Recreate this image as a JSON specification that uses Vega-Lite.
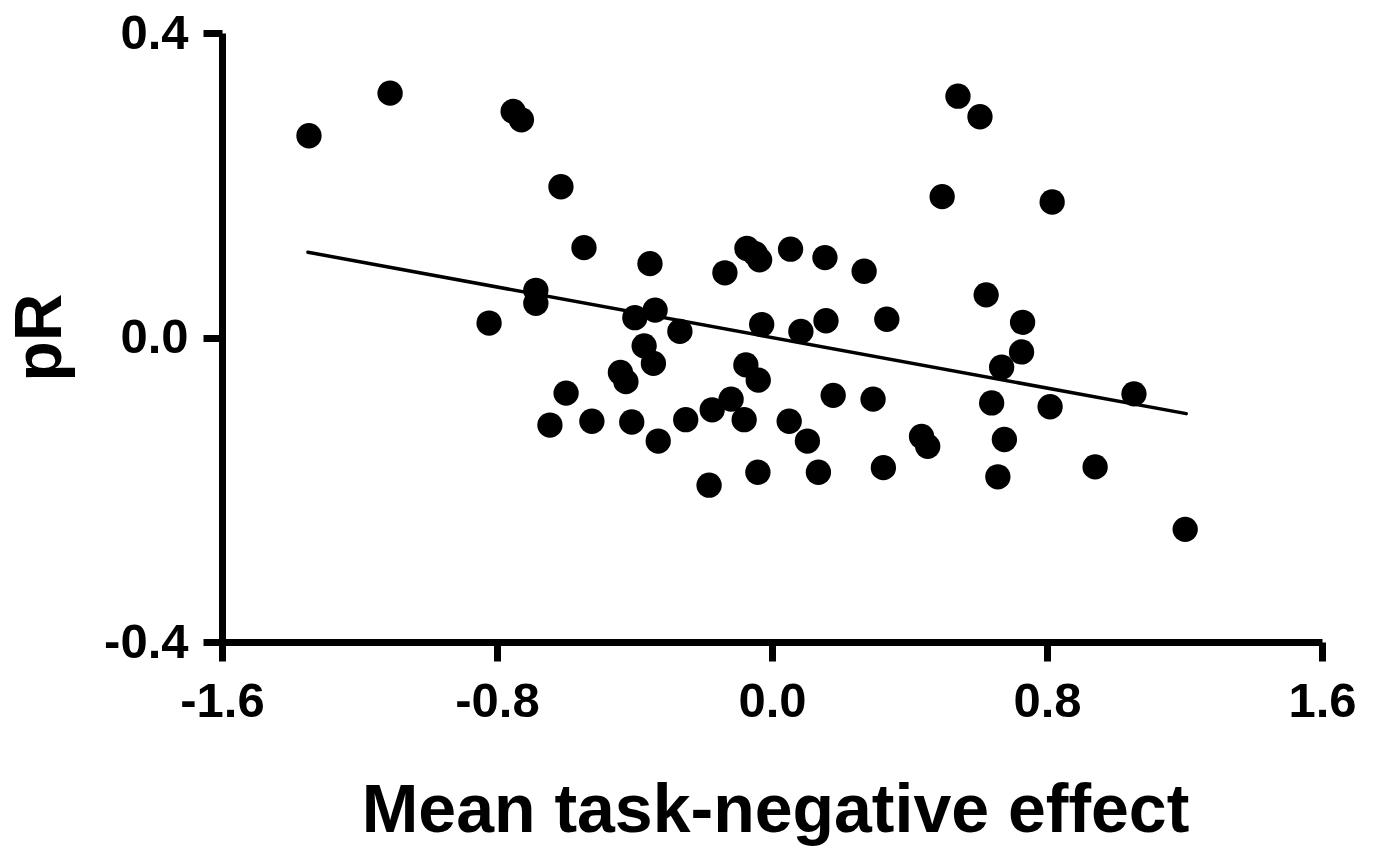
{
  "$schema": "https://vega.github.io/schema/vega-lite/v6.json",
  "width": 1100,
  "height": 609,
  "autosize": {"type": "none"},
  "padding": {"left": 222, "top": 33, "right": 53, "bottom": 206},
  "background": "white",
  "config": {
    "view": {"stroke": null},
    "font": "Liberation Sans",
    "axis": {
      "grid": false,
      "domainColor": "black",
      "domainWidth": 7,
      "tickColor": "black",
      "tickWidth": 7,
      "tickSize": 19,
      "labelFont": "Liberation Sans",
      "labelFontWeight": "bold",
      "labelFontSize": 49,
      "labelColor": "black",
      "labelFlush": false,
      "labelOverlap": false,
      "labelBound": false,
      "titleFont": "Liberation Sans",
      "titleFontWeight": "bold",
      "titleColor": "black"
    }
  },
  "datasets": {
    "pts": [
      {"x": -1.347, "y": 0.265},
      {"x": -1.111, "y": 0.321},
      {"x": -0.753, "y": 0.297},
      {"x": -0.729, "y": 0.286},
      {"x": -0.614, "y": 0.198},
      {"x": -0.547, "y": 0.118},
      {"x": -0.687, "y": 0.062},
      {"x": -0.687, "y": 0.045},
      {"x": -0.823, "y": 0.019},
      {"x": -0.355, "y": 0.097},
      {"x": -0.399, "y": 0.026},
      {"x": -0.340, "y": 0.036},
      {"x": -0.268, "y": 0.008},
      {"x": -0.372, "y": -0.011},
      {"x": -0.441, "y": -0.046},
      {"x": -0.425, "y": -0.058},
      {"x": -0.345, "y": -0.034},
      {"x": -0.599, "y": -0.073},
      {"x": -0.646, "y": -0.115},
      {"x": -0.524, "y": -0.110},
      {"x": -0.408, "y": -0.111},
      {"x": -0.331, "y": -0.136},
      {"x": -0.251, "y": -0.108},
      {"x": -0.183, "y": -0.194},
      {"x": -0.174, "y": -0.095},
      {"x": -0.119, "y": -0.081},
      {"x": -0.137, "y": 0.085},
      {"x": -0.073, "y": 0.117},
      {"x": -0.049, "y": 0.110},
      {"x": -0.036, "y": 0.102},
      {"x": -0.030, "y": 0.017},
      {"x": -0.076, "y": -0.036},
      {"x": -0.040, "y": -0.056},
      {"x": -0.081, "y": -0.108},
      {"x": -0.041, "y": -0.177},
      {"x": 0.054, "y": 0.116},
      {"x": 0.084, "y": 0.008},
      {"x": 0.050, "y": -0.110},
      {"x": 0.103, "y": -0.136},
      {"x": 0.135, "y": -0.177},
      {"x": 0.154, "y": 0.105},
      {"x": 0.157, "y": 0.022},
      {"x": 0.178, "y": -0.076},
      {"x": 0.268, "y": 0.087},
      {"x": 0.294, "y": -0.081},
      {"x": 0.334, "y": 0.024},
      {"x": 0.324, "y": -0.171},
      {"x": 0.435, "y": -0.130},
      {"x": 0.453, "y": -0.143},
      {"x": 0.495, "y": 0.185},
      {"x": 0.541, "y": 0.317},
      {"x": 0.605, "y": 0.290},
      {"x": 0.623, "y": 0.056},
      {"x": 0.639, "y": -0.086},
      {"x": 0.668, "y": -0.039},
      {"x": 0.676, "y": -0.134},
      {"x": 0.657, "y": -0.183},
      {"x": 0.729, "y": 0.020},
      {"x": 0.726, "y": -0.019},
      {"x": 0.809, "y": -0.091},
      {"x": 0.815, "y": 0.178},
      {"x": 0.940, "y": -0.170},
      {"x": 1.053, "y": -0.074},
      {"x": 1.202, "y": -0.252}
    ],
    "fit": [
      {"x": -1.350, "y": 0.112},
      {"x": 1.205, "y": -0.100}
    ]
  },
  "layer": [
    {
      "data": {"name": "fit"},
      "mark": {"type": "line", "color": "black", "strokeWidth": 3.5, "strokeCap": "round"},
      "encoding": {
        "x": {"field": "x", "type": "quantitative", "scale": {"domain": [-1.6, 1.6], "nice": false, "zero": false}},
        "y": {"field": "y", "type": "quantitative", "scale": {"domain": [-0.4, 0.4], "nice": false, "zero": false}}
      }
    },
    {
      "data": {"name": "pts"},
      "mark": {"type": "point", "shape": "circle", "filled": true, "size": 640, "color": "black", "opacity": 1, "strokeWidth": 0},
      "encoding": {
        "x": {
          "field": "x", "type": "quantitative",
          "scale": {"domain": [-1.6, 1.6], "nice": false, "zero": false},
          "axis": {
            "values": [-1.6, -0.8, 0, 0.8, 1.6],
            "labelExpr": "datum.value < 0 ? '-' + format(-datum.value, '.1f') : format(datum.value, '.1f')",
            "labelPadding": 16,
            "title": "Mean task-negative effect",
            "titleFontSize": 68,
            "titleX": 553,
            "titleY": 189,
            "titleAlign": "center",
            "titleBaseline": "alphabetic"
          }
        },
        "y": {
          "field": "y", "type": "quantitative",
          "scale": {"domain": [-0.4, 0.4], "nice": false, "zero": false},
          "axis": {
            "values": [-0.4, 0, 0.4],
            "labelExpr": "datum.value < 0 ? '-' + format(-datum.value, '.1f') : format(datum.value, '.1f')",
            "labelPadding": 15,
            "title": "pR",
            "titleFontSize": 66,
            "titleAngle": -90,
            "titleX": -162,
            "titleY": 304,
            "titleAlign": "center",
            "titleBaseline": "alphabetic"
          }
        }
      }
    }
  ]
}
